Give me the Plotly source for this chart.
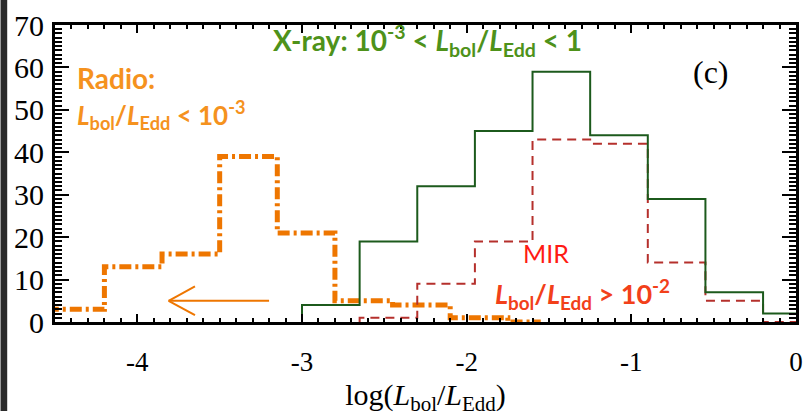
import plotly.graph_objects as go

# ---- data ----
xray_edges = [-3.0, -2.65, -2.30, -1.95, -1.60, -1.25, -0.90, -0.55, -0.20, 0.0]
xray_counts = [4, 19, 32, 45, 59, 44, 29, 7, 2]

mir_edges = [-2.65, -2.30, -1.95, -1.60, -1.25, -0.90, -0.55, -0.20, 0.0]
mir_counts = [1, 9, 19, 43, 42, 14, 5, 0]

radio_edges = [-4.55, -4.20, -3.85, -3.50, -3.15, -2.80, -2.45, -2.10, -1.75, -1.55]
radio_counts = [3, 13, 16, 39, 21, 5, 4, 1, 0]

x_ticks = [-4, -3, -2, -1, 0]
x_ticktext = ["-4", "-3", "-2", "-1", "0"]
y_ticks = [0, 10, 20, 30, 40, 50, 60, 70]
x_range = [-4.5, 0]
y_range = [0, 70]

# arrow (upper-limit indicator for radio)
arrow_tail = (-3.20, 5.0)
arrow_tip = (-3.81, 5.0)
arrow_wing_x = -3.65
arrow_wing_dy = 3.4

GREEN_LINE = "#1c5a1c"
RED_LINE = "#b5302c"
ORANGE_LINE = "#ee7600"
ORANGE_TEXT = "#f5921e"
GREEN_TEXT = "#4e921a"
RED_TEXT = "#ff1a14"
RED2_TEXT = "#f2401a"


def steps(edges, counts, start0=True, end0=False):
    xs, ys = [], []
    if start0:
        xs.append(edges[0]); ys.append(0)
    for i, c in enumerate(counts):
        xs += [edges[i], edges[i + 1]]
        ys += [c, c]
    if end0:
        xs.append(edges[-1]); ys.append(0)
    return xs, ys


fig = go.Figure()

rx, ry = steps(radio_edges, radio_counts, start0=False)
fig.add_trace(go.Scatter(x=rx, y=ry, mode="lines",
                         line=dict(color=ORANGE_LINE, width=5, dash="12px,4px,3px,4px"),
                         showlegend=False, hoverinfo="skip"))

mx, my = steps(mir_edges, mir_counts, start0=True)
fig.add_trace(go.Scatter(x=mx, y=my, mode="lines",
                         line=dict(color=RED_LINE, width=2, dash="9px,6px"),
                         showlegend=False, hoverinfo="skip"))

gx, gy = steps(xray_edges, xray_counts, start0=True)
fig.add_trace(go.Scatter(x=gx, y=gy, mode="lines",
                         line=dict(color=GREEN_LINE, width=2),
                         showlegend=False, hoverinfo="skip"))

# invisible trace that carries the mirrored (top/right) tick axes
fig.add_trace(go.Scatter(x=x_range, y=y_range, xaxis="x2", yaxis="y2", mode="none",
                         showlegend=False, hoverinfo="skip"))

# arrow
fig.add_shape(type="line", x0=arrow_tail[0], y0=arrow_tail[1], x1=arrow_tip[0], y1=arrow_tip[1],
              line=dict(color=ORANGE_LINE, width=2))
for s in (1, -1):
    fig.add_shape(type="line", x0=arrow_tip[0], y0=arrow_tip[1],
                  x1=arrow_wing_x, y1=arrow_tip[1] + s * arrow_wing_dy,
                  line=dict(color=ORANGE_LINE, width=2))

# dark strip on the left edge of the picture
fig.add_shape(type="rect", xref="paper", yref="paper",
              x0=-0.0735, x1=-0.0645, y0=-0.3, y1=1.1,
              fillcolor="#2a2a2a", line=dict(width=0), layer="above")

LB = "<i>L</i><sub>bol</sub>/<i>L</i><sub>Edd</sub>"
SANS = "Lato"

ann = [
    dict(x=-3.19, y=66.3, text="<b>X-ray: 10<sup>-3</sup> &lt; " + LB + " &lt; 1</b>",
         font=dict(family=SANS, size=28, color=GREEN_TEXT), xanchor="left"),
    dict(x=-4.38, y=57.6, text="<b>Radio:</b>",
         font=dict(family=SANS, size=28, color=ORANGE_TEXT), xanchor="left"),
    dict(x=-4.38, y=48.8, text="<b>" + LB + " &lt; 10<sup>-3</sup></b>",
         font=dict(family=SANS, size=26, color=ORANGE_TEXT), xanchor="left"),
    dict(x=-0.515, y=59.0, text="(c)",
         font=dict(family="Liberation Serif", size=32, color="black"), xanchor="center"),
    dict(x=-1.52, y=16.2, text="MIR",
         font=dict(family=SANS, size=25, color=RED_TEXT), xanchor="center"),
    dict(x=-1.84, y=6.6, text="<b>" + LB + " &gt; 10<sup>-2</sup></b>",
         font=dict(family=SANS, size=27, color=RED2_TEXT), xanchor="left"),
]
for a in ann:
    a.update(xref="x", yref="y", yanchor="middle", showarrow=False)
fig.update_layout(annotations=ann)

common_x = dict(range=x_range, tickvals=x_ticks,
                ticks="inside", ticklen=8, tickwidth=2, tickcolor="black",
                minor=dict(dtick=0.1, ticks="inside", ticklen=4, tickwidth=1.5, tickcolor="black"),
                showline=True, linewidth=3, linecolor="black",
                showgrid=False, zeroline=False)
common_y = dict(range=y_range, tickvals=y_ticks,
                ticks="inside", ticklen=14, tickwidth=2, tickcolor="black",
                minor=dict(dtick=1, ticks="inside", ticklen=7, tickwidth=1.5, tickcolor="black"),
                showline=True, linewidth=3, linecolor="black",
                showgrid=False, zeroline=False)

fig.update_layout(
    width=811, height=416,
    margin=dict(l=55, r=8, t=15, b=87),
    paper_bgcolor="white", plot_bgcolor="white",
    xaxis=dict(**common_x, ticktext=x_ticktext, ticklabelstandoff=14,
               tickfont=dict(family="Liberation Serif", size=27, color="black"),
               title=dict(text="log(" + LB + ")", standoff=10,
                          font=dict(family="Liberation Serif", size=30, color="black"))),
    yaxis=dict(**common_y, ticklabelstandoff=2, ticklabeloverflow="allow",
               tickfont=dict(family="Liberation Serif", size=30, color="black")),
    xaxis2=dict(**common_x, overlaying="x", side="top", showticklabels=False),
    yaxis2=dict(**common_y, overlaying="y", side="right", showticklabels=False),
)

fig.write_html("out.html")
